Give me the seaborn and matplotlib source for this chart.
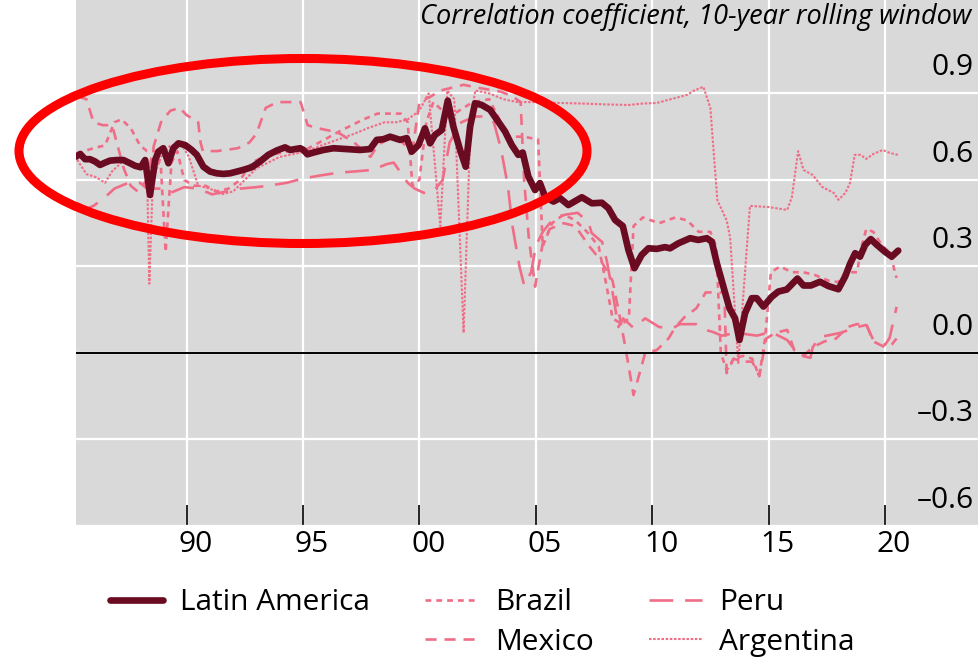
import matplotlib
matplotlib.use("Agg")
import matplotlib.pyplot as plt
import matplotlib.transforms as mtransforms
from matplotlib.patches import Ellipse
from matplotlib.lines import Line2D
import seaborn as sns

# Latin America (regional aggregate)
la_year = [1985.25, 1985.43, 1985.64, 1985.85, 1986.07, 1986.28, 1986.50, 1986.71, 1987.00, 1987.29,
           1987.57, 1987.79, 1988.03, 1988.22, 1988.43, 1988.65, 1988.79, 1989.00, 1989.22, 1989.43,
           1989.65, 1989.94, 1990.22, 1990.44, 1990.72, 1991.01, 1991.30, 1991.58, 1991.87, 1992.16,
           1992.44, 1992.80, 1993.16, 1993.51, 1993.87, 1994.23, 1994.45, 1994.88, 1995.02, 1995.19,
           1995.45, 1995.88, 1996.31, 1996.88, 1997.45, 1997.88, 1998.17, 1998.45, 1998.74, 1999.17,
           1999.46, 1999.67, 1999.96, 2000.24, 2000.46, 2000.67, 2000.96, 2001.22, 2001.46, 2001.75,
           2001.99, 2002.18, 2002.39, 2002.68, 2003.04, 2003.39, 2003.68, 2003.97, 2004.25, 2004.44,
           2004.68, 2004.97, 2005.18, 2005.40, 2005.76, 2006.04, 2006.40, 2006.98, 2007.41, 2007.84,
           2008.12, 2008.41, 2008.74, 2008.98, 2009.24, 2009.55, 2009.84, 2010.20, 2010.55, 2010.77,
           2011.12, 2011.63, 2011.98, 2012.35, 2012.56, 2012.78, 2013.06, 2013.32, 2013.56, 2013.75,
           2013.99, 2014.28, 2014.49, 2014.78, 2015.14, 2015.42, 2015.78, 2016.24, 2016.50, 2016.82,
           2017.21, 2017.57, 2018.00, 2018.29, 2018.50, 2018.72, 2018.93, 2019.15, 2019.39, 2019.65,
           2020.00, 2020.29, 2020.57]
la_val = [0.681, 0.690, 0.672, 0.672, 0.664, 0.652, 0.660, 0.667, 0.669, 0.669,
          0.658, 0.649, 0.644, 0.669, 0.548, 0.669, 0.698, 0.710, 0.658, 0.710,
          0.727, 0.721, 0.704, 0.687, 0.646, 0.629, 0.623, 0.621, 0.623, 0.629,
          0.635, 0.644, 0.664, 0.687, 0.702, 0.713, 0.704, 0.710, 0.704, 0.689,
          0.695, 0.704, 0.710, 0.707, 0.704, 0.707, 0.739, 0.741, 0.750, 0.739,
          0.745, 0.698, 0.721, 0.779, 0.727, 0.756, 0.773, 0.875, 0.785, 0.704,
          0.646, 0.785, 0.866, 0.860, 0.843, 0.802, 0.768, 0.721, 0.687, 0.695,
          0.612, 0.565, 0.589, 0.542, 0.525, 0.537, 0.513, 0.540, 0.519, 0.521,
          0.502, 0.461, 0.440, 0.357, 0.294, 0.340, 0.363, 0.361, 0.367, 0.363,
          0.380, 0.398, 0.392, 0.398, 0.386, 0.311, 0.230, 0.155, 0.120, 0.045,
          0.138, 0.190, 0.190, 0.161, 0.195, 0.213, 0.220, 0.258, 0.234, 0.234,
          0.247, 0.232, 0.221, 0.265, 0.309, 0.346, 0.334, 0.375, 0.395, 0.375,
          0.351, 0.334, 0.355]

# Brazil
br_year = [1985.3, 1985.6, 1986.0, 1986.5, 1986.9, 1987.2, 1987.6, 1988.0, 1988.3, 1988.7,
           1988.9, 1989.1, 1989.35, 1989.6, 1989.9, 1990.3, 1990.8, 1991.3, 1991.8, 1992.3,
           1992.8, 1993.3, 1993.8, 1994.4, 1995.0, 1995.7, 1996.6, 1997.6, 1998.2, 1999.2,
           1999.5, 1999.7, 2000.0, 2000.3, 2000.6, 2001.0, 2001.5, 2001.9, 2002.3, 2003.0,
           2003.5, 2003.8, 2004.5, 2005.1, 2005.3, 2005.7, 2006.2, 2006.7, 2007.2, 2007.7,
           2008.0, 2008.3, 2008.7, 2009.0, 2009.2, 2009.6, 2010.3, 2011.0, 2011.5, 2012.0,
           2012.5, 2012.75, 2012.95, 2013.2, 2013.5, 2013.9, 2014.3, 2014.6, 2014.85, 2015.1,
           2015.5, 2016.0, 2016.5, 2017.0, 2017.6, 2018.0, 2018.3, 2018.8, 2019.0, 2019.2,
           2019.5, 2019.9, 2020.2, 2020.5]
br_val = [0.69, 0.70, 0.71, 0.72, 0.80, 0.81, 0.78, 0.72, 0.70, 0.70,
          0.64, 0.35, 0.66, 0.70, 0.60, 0.58, 0.58, 0.56, 0.57, 0.60,
          0.66, 0.68, 0.69, 0.70, 0.70, 0.73, 0.77, 0.81, 0.83, 0.83,
          0.80, 0.58, 0.60, 0.80, 0.87, 0.84, 0.83, 0.85, 0.87, 0.88,
          0.80, 0.75, 0.75, 0.74, 0.37, 0.45, 0.48, 0.46, 0.42, 0.37,
          0.25, 0.12, 0.10, 0.12, 0.44, 0.47, 0.45, 0.47, 0.46, 0.42,
          0.42, 0.37, 0.00, -0.06, -0.02, -0.01, -0.02, -0.08, 0.05, 0.28,
          0.30, 0.28, 0.28, 0.27, 0.25, 0.246, 0.28, 0.28, 0.37, 0.43,
          0.42, 0.37, 0.35, 0.26]

# Mexico
mx_year = [1985.3, 1985.7, 1986.0, 1986.4, 1986.8, 1987.0, 1987.3, 1987.6, 1987.9, 1988.3,
           1988.6, 1988.9, 1989.3, 1989.7, 1990.0, 1990.3, 1990.5, 1990.6, 1990.7, 1991.3,
           1992.2, 1992.7, 1993.0, 1993.4, 1993.9, 1994.9, 1995.2, 1995.6, 1996.2, 1996.6,
           1997.2, 1997.6, 1997.9, 1998.2, 1998.6, 1999.0, 1999.4, 1999.7, 2000.0, 2000.5,
           2000.9, 2001.9, 2002.5, 2003.5, 2004.0, 2004.35, 2004.5, 2004.7, 2004.97, 2005.3,
           2005.6, 2006.2, 2006.7, 2007.3, 2007.8, 2008.3, 2008.55, 2008.85, 2009.2, 2009.7,
           2010.2, 2010.7, 2011.0, 2011.4, 2011.9, 2012.3, 2012.7, 2013.1, 2013.2, 2013.5,
           2013.9, 2014.3, 2014.6, 2014.9, 2015.3, 2015.8, 2016.1, 2016.5, 2016.9, 2017.4,
           2017.9, 2018.4, 2018.8, 2019.2, 2019.5, 2020.0, 2020.3, 2020.5]
mx_val = [0.89, 0.88, 0.80, 0.79, 0.79, 0.73, 0.64, 0.58, 0.56, 0.60,
          0.72, 0.80, 0.84, 0.85, 0.825, 0.81, 0.80, 0.73, 0.70, 0.70,
          0.71, 0.73, 0.76, 0.85, 0.87, 0.87, 0.79, 0.78, 0.77, 0.76,
          0.73, 0.70, 0.68, 0.72, 0.74, 0.75, 0.72, 0.70, 0.87, 0.89,
          0.91, 0.93, 0.92, 0.906, 0.89, 0.87, 0.60, 0.40, 0.23, 0.38,
          0.43, 0.45, 0.44, 0.37, 0.32, 0.25, 0.15, 0.02, -0.146, 0.00,
          0.01, 0.05, 0.09, 0.125, 0.155, 0.21, 0.21, 0.21, -0.07, -0.02,
          -0.03, -0.03, -0.08, 0.05, 0.07, 0.08, 0.01, -0.01, 0.02, 0.04,
          0.05, 0.09, 0.10, 0.10, 0.04, 0.02, 0.03, 0.05]

# Peru
pe_year = [1985.3, 1985.7, 1986.0, 1986.5, 1986.9, 1987.5, 1988.0, 1988.3, 1988.9, 1989.3,
           1989.9, 1990.5, 1991.1, 1991.7, 1992.3, 1993.0, 1993.5, 1994.3, 1995.0, 1995.7,
           1996.5, 1997.3, 1998.0, 1998.6, 1998.9, 1999.2, 1999.5, 1999.8, 2000.2, 2000.6,
           2001.0, 2001.3, 2001.8, 2002.4, 2002.9, 2003.2, 2003.5, 2003.8, 2004.0, 2004.3,
           2004.5, 2004.8, 2005.0, 2005.3, 2005.8, 2006.3, 2006.8, 2007.0, 2007.3, 2007.4,
           2007.85, 2008.05, 2008.3, 2008.55, 2008.75, 2009.2, 2009.7, 2010.3, 2010.9, 2011.2,
           2011.9, 2012.3, 2012.6, 2013.0, 2013.6, 2014.5, 2015.1, 2015.8, 2016.3, 2016.8,
           2016.9, 2017.2, 2018.1, 2018.8, 2019.2, 2019.5, 2020.0, 2020.2, 2020.5]
pe_val = [0.52, 0.50, 0.51, 0.54, 0.57, 0.59, 0.59, 0.57, 0.57, 0.555,
          0.575, 0.57, 0.55, 0.56, 0.57, 0.575, 0.58, 0.59, 0.605, 0.615,
          0.625, 0.63, 0.635, 0.655, 0.66, 0.625, 0.59, 0.57, 0.555, 0.56,
          0.60, 0.73, 0.80, 0.82, 0.82, 0.80, 0.71, 0.58, 0.44, 0.30,
          0.235, 0.28, 0.37, 0.42, 0.47, 0.48, 0.486, 0.472, 0.444, 0.416,
          0.385, 0.32, 0.21, 0.09, 0.12, 0.087, 0.12, 0.09, 0.087, 0.10,
          0.10, 0.08, 0.073, 0.06, 0.07, 0.06, 0.073, 0.045, -0.007, -0.017,
          0.02, 0.055, 0.07, 0.09, 0.097, 0.045, 0.028, 0.052, 0.16]

# Argentina
ar_year = [1985.3, 1985.7, 1986.1, 1986.5, 1986.8, 1987.2, 1987.7, 1988.1, 1988.3, 1988.4,
           1988.55, 1988.9, 1989.3, 1989.8, 1990.1, 1990.5, 1991.0, 1991.5, 1992.0, 1992.5,
           1993.0, 1993.5, 1994.0, 1994.6, 1995.2, 1995.8, 1996.5, 1997.2, 1997.8, 1998.5,
           1999.0, 1999.5, 2000.0, 2000.4, 2000.9, 2001.2, 2001.5, 2001.9, 2002.2, 2002.4,
           2003.0, 2003.6, 2004.2, 2005.0, 2006.0, 2007.0, 2008.0, 2009.0, 2009.6, 2010.2,
           2010.8, 2011.5, 2011.8, 2012.2, 2012.5, 2012.8, 2013.2, 2013.35, 2013.7, 2014.2,
           2015.0, 2015.8, 2016.0, 2016.27, 2016.5, 2016.9, 2017.3, 2017.8, 2018.0, 2018.3,
           2018.5, 2018.7, 2018.95, 2019.2, 2019.5, 2019.9, 2020.2, 2020.55]
ar_val = [0.67, 0.62, 0.61, 0.59, 0.63, 0.66, 0.66, 0.65, 0.63, 0.24,
          0.60, 0.68, 0.72, 0.72, 0.68, 0.58, 0.57, 0.55, 0.56, 0.60,
          0.64, 0.66, 0.68, 0.69, 0.70, 0.72, 0.74, 0.76, 0.78, 0.80,
          0.80, 0.81, 0.84, 0.90, 0.44, 0.91, 0.88, 0.07, 0.80, 0.91,
          0.90, 0.88, 0.87, 0.87, 0.867, 0.865, 0.862, 0.86, 0.865, 0.867,
          0.88, 0.895, 0.91, 0.923, 0.85, 0.53, 0.46, 0.40, -0.035, 0.51,
          0.506, 0.496, 0.54, 0.70, 0.635, 0.617, 0.576, 0.555, 0.531, 0.555,
          0.59, 0.687, 0.687, 0.673, 0.69, 0.704, 0.694, 0.687]

year_ticks = [1990, 1995, 2000, 2005, 2010, 2015, 2020]
year_labels = ["90", "95", "00", "05", "10", "15", "20"]
y_ticks = [-0.6, -0.3, 0.0, 0.3, 0.6, 0.9]
y_labels = ["\u20130.6", "\u20130.3", "0.0", "0.3", "0.6", "0.9"]

maroon = "#6b0b22"
pink = "#f06d87"

sns.set_style("darkgrid", {"axes.facecolor": "#d9d9d9", "grid.color": "white"})
plt.rcParams["font.family"] = ["Open Sans", "DejaVu Sans"]
plt.rcParams["text.color"] = "black"
plt.rcParams["xtick.labelcolor"] = "black"
plt.rcParams["ytick.labelcolor"] = "black"

fig = plt.figure(figsize=(9.79, 6.66), dpi=100)
ax = fig.add_axes([76 / 979, 1 - 526 / 666, 1 - 76 / 979, 526 / 666])

sns.lineplot(x=pe_year, y=pe_val, ax=ax, color=pink, lw=1.9, linestyle=(0, (9, 4.5)),
             estimator=None, legend=False)
sns.lineplot(x=mx_year, y=mx_val, ax=ax, color=pink, lw=1.9, linestyle=(0, (4.2, 3)),
             estimator=None, legend=False)
sns.lineplot(x=br_year, y=br_val, ax=ax, color=pink, lw=1.9, linestyle=(0, (2.2, 1.9)),
             estimator=None, legend=False)
sns.lineplot(x=ar_year, y=ar_val, ax=ax, color=pink, lw=1.5, linestyle=(0, (1.2, 0.8)),
             estimator=None, legend=False)
sns.lineplot(x=la_year, y=la_val, ax=ax, color=maroon, lw=4.8, estimator=None, legend=False)

ax.axhline(0, color="black", lw=1.4, zorder=3)

ax.set_xlim(1985.25, 2024.04)
ax.set_ylim(-0.6, 1.224)
ax.grid(True, color="white", lw=1.6)
for s in ax.spines.values():
    s.set_visible(False)

ax.set_xticks(year_ticks)
ax.set_xticklabels(year_labels)
ax.tick_params(axis="x", direction="in", length=15, width=1.2, color="black",
               labelsize=21.5, labelcolor="black", pad=3, bottom=True)

ax.yaxis.tick_right()
ax.set_yticks(y_ticks)
ax.set_yticklabels(y_labels)
ax.tick_params(axis="y", length=0, pad=0, labelsize=21.5, labelcolor="black")
ax.set_xlabel("")
ax.set_ylabel("")

ax.text(0.991, 0.994, "Correlation coefficient, 10-year rolling window", transform=ax.transAxes,
        ha="right", va="top", fontsize=19.5, style="italic", color="black")

# legend: column-major with an empty slot under Latin America
handles = [
    Line2D([], [], color=maroon, lw=4.8),
    Line2D([], [], alpha=0),
    Line2D([], [], color=pink, lw=1.9, linestyle=(0, (2.2, 1.9))),
    Line2D([], [], color=pink, lw=1.9, linestyle=(0, (4.2, 3))),
    Line2D([], [], color=pink, lw=1.9, linestyle=(0, (9, 4.5))),
    Line2D([], [], color=pink, lw=1.5, linestyle=(0, (1.2, 0.8))),
]
labels = ["Latin America", "", "Brazil", "Mexico", "Peru", "Argentina"]
leg = fig.legend(handles, labels, ncol=3, loc="upper left", bbox_to_anchor=(110 / 979, 1 - 588 / 666),
                 frameon=False, fontsize=21.5, handlelength=1.77, handletextpad=0.57,
                 columnspacing=1.86, labelspacing=0.36, borderaxespad=0, borderpad=0)
for t in leg.get_texts():
    t.set_color("black")

# the red ellipse highlight
ax.add_patch(Ellipse((303 / 979, 1 - 151 / 666), 568 / 979, 185 / 666, transform=fig.transFigure,
                     fill=False, edgecolor="#ff0000", lw=6.5, clip_on=False, zorder=10))

# shift tick labels: x labels slightly right, y labels inside and above grid lines
for lab in ax.get_xticklabels():
    lab.set_transform(lab.get_transform() + mtransforms.ScaledTranslation(0.09, 0, fig.dpi_scale_trans))
for lab in ax.get_yticklabels():
    lab.set_horizontalalignment("right")
    lab.set_transform(lab.get_transform() + mtransforms.ScaledTranslation(-0.05, 0.29, fig.dpi_scale_trans))

fig.savefig("out.png", dpi=100)
